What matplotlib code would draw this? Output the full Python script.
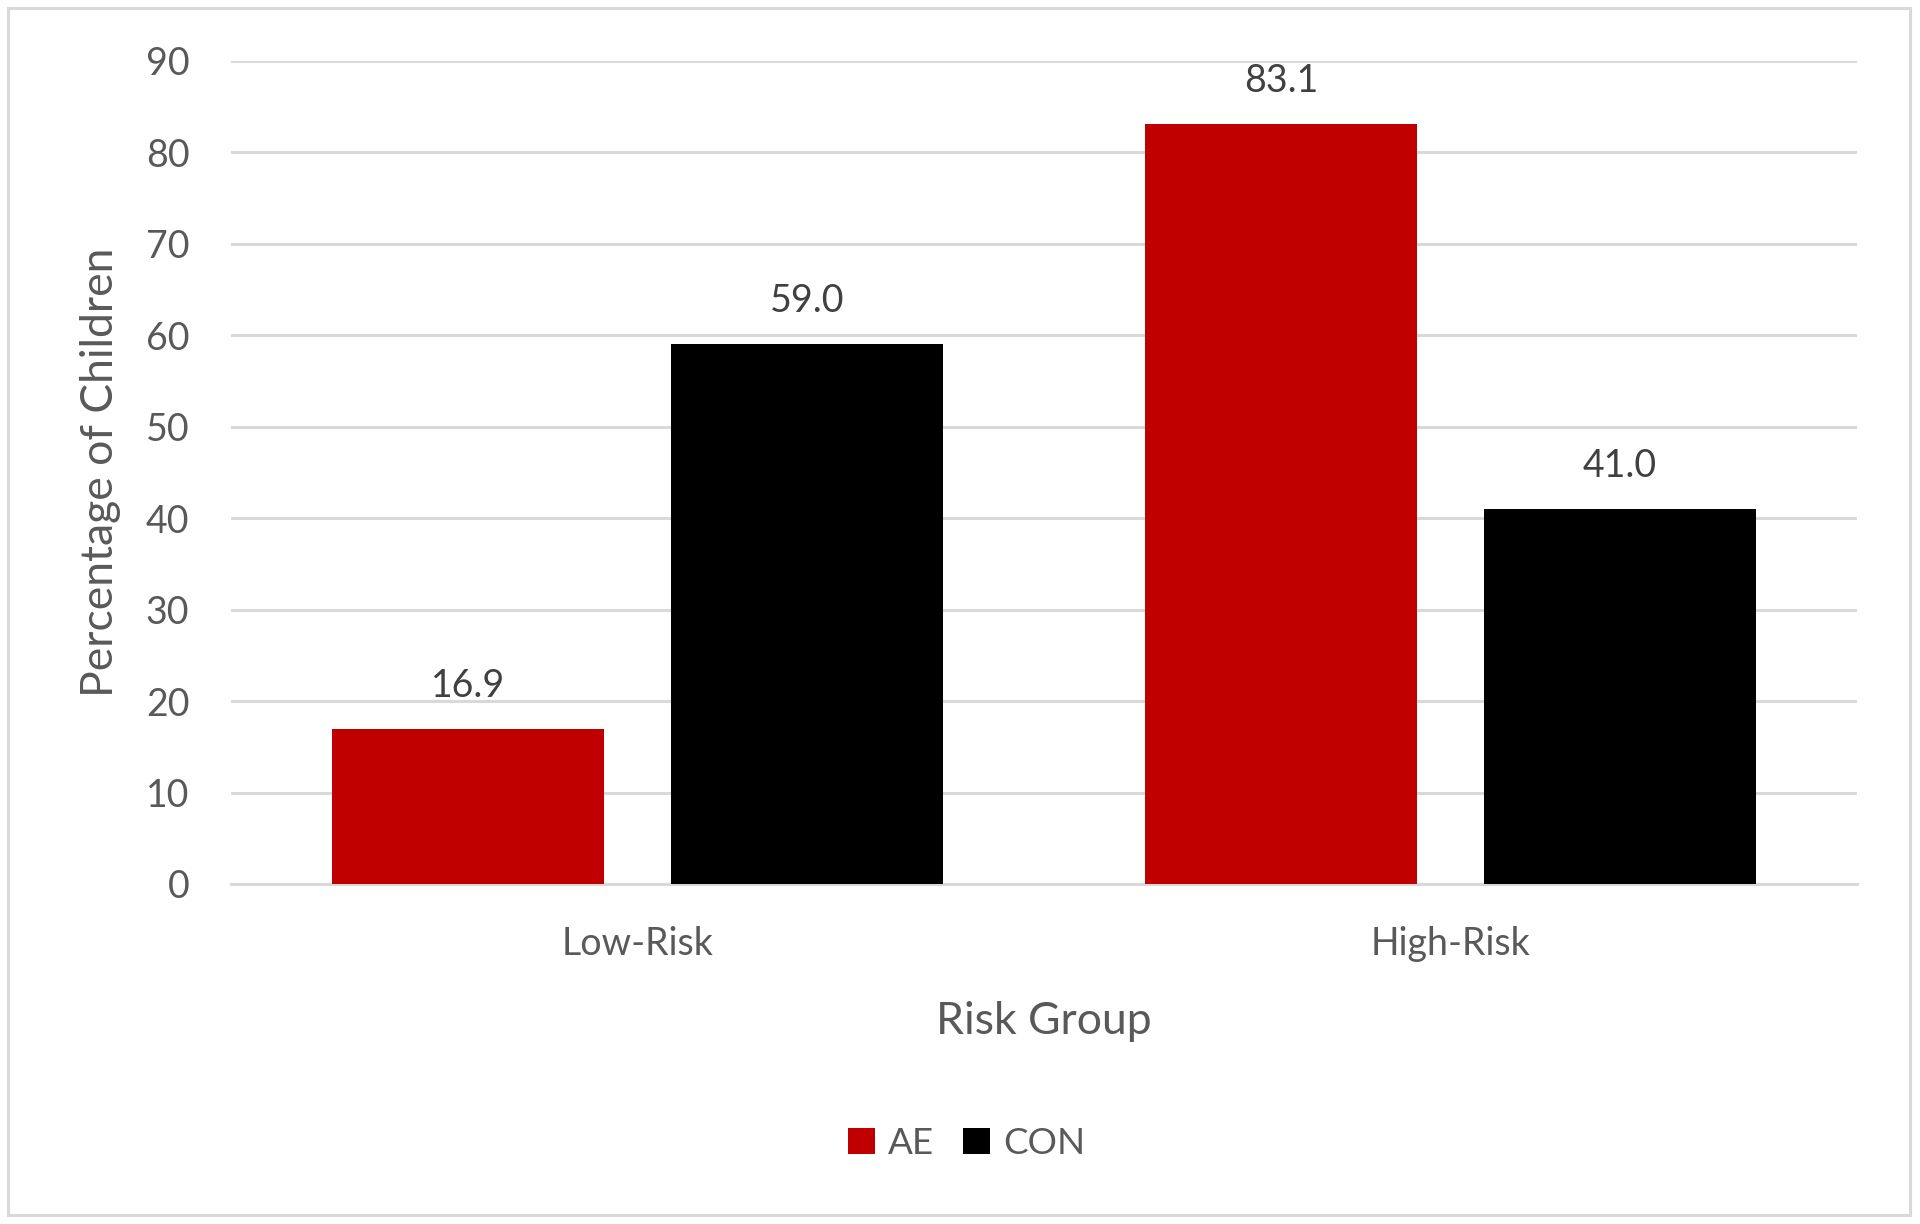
import matplotlib
matplotlib.use("Agg")
import matplotlib.pyplot as plt
import numpy as np
from matplotlib.patches import Rectangle

categories = ["Low-Risk", "High-Risk"]
series_names = ["AE", "CON"]
ae_values = [16.9, 83.1]
con_values = [59.0, 41.0]
yticks = [0, 10, 20, 30, 40, 50, 60, 70, 80, 90]

plt.rcParams['font.family'] = ['Lato', 'DejaVu Sans']
text_col = "#595959"

fig = plt.figure(figsize=(19.2, 12.24), dpi=100)
ax = fig.add_axes([0.1203, 0.2778, 0.8469, 0.6724])

x = np.arange(len(categories))
bw = 0.335
off = 0.2085
colors = ["#C00000", "#000000"]
for vals, o, c, name in [(ae_values, -off, colors[0], series_names[0]),
                         (con_values, off, colors[1], series_names[1])]:
    bars = ax.bar(x + o, vals, width=bw, color=c, label=name, zorder=3)
    for b, v in zip(bars, vals):
        ax.annotate(f"{v:.1f}", (b.get_x() + b.get_width() / 2, v),
                    xytext=(0, 18), textcoords="offset points",
                    ha="center", va="bottom", fontsize=27, color="#404040")

ax.set_xlim(-0.5, 1.5)
ax.set_ylim(0, 90)
ax.set_yticks(yticks)
ax.set_xticks(x)
ax.set_xticklabels(categories)
ax.yaxis.grid(True, color="#D9D9D9", linewidth=2.2, zorder=0)
ax.set_axisbelow(True)
for s in ["top", "right", "left"]:
    ax.spines[s].set_visible(False)
ax.spines["bottom"].set_color("#D9D9D9")
ax.spines["bottom"].set_linewidth(2.2)
ax.tick_params(axis="both", length=0, labelsize=27, labelcolor=text_col)
ax.tick_params(axis="y", pad=30)
ax.tick_params(axis="x", pad=30)

ax.set_ylabel("Percentage of Children", fontsize=32, color=text_col, labelpad=18)
ax.set_xlabel("Risk Group", fontsize=32, color=text_col, labelpad=28)

leg = fig.legend(loc="center", bbox_to_anchor=(0.5035, 1 - 1143 / 1224), ncol=2,
                 frameon=False, fontsize=26.5, handlelength=0.72, handleheight=0.72,
                 handletextpad=0.35, columnspacing=0.8)
for t in leg.get_texts():
    t.set_color(text_col)

fig.patches.append(Rectangle((8 / 1920, 1 - 1215 / 1224), 1902 / 1920, 1207 / 1224,
                             transform=fig.transFigure, fill=False,
                             edgecolor="#D9D9D9", linewidth=2.2))

fig.savefig("out.png", dpi=100)
